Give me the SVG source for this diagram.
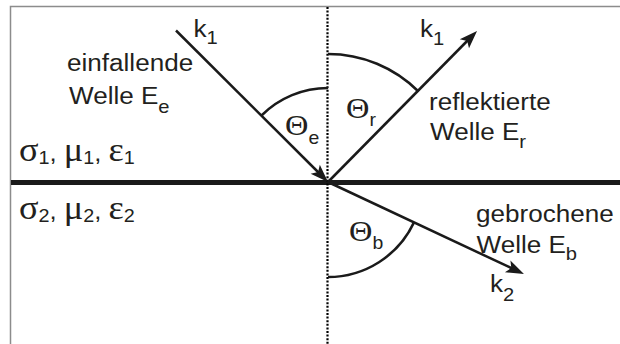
<svg xmlns="http://www.w3.org/2000/svg" width="620" height="344" viewBox="0 0 620 344">
<style>
.t{font-family:"Liberation Sans",Arial,sans-serif;font-size:23.3px;fill:#231f20}
.s{font-size:18px}
.g{font-family:"Liberation Serif","Times New Roman",serif;font-size:33px}
.th{font-family:"Liberation Serif","Times New Roman",serif;font-size:30px}
.ray{stroke:#1a1a1a;stroke-width:2.5;fill:none}
.arc{stroke:#1a1a1a;stroke-width:2.5;fill:none}
</style>
<defs>
<marker id="ah" viewBox="-8 -8 22 16" refX="0" refY="0" markerWidth="22" markerHeight="16" markerUnits="userSpaceOnUse" orient="auto">
<path d="M12,0 L-6,-6.5 L-2,0 L-6,6.5 Z" fill="#1a1a1a"/>
</marker>
</defs>
<rect width="620" height="344" fill="#fff"/>
<g id="frame" stroke="#8c8c8c" stroke-width="1.5" fill="none">
<path d="M10.5,344 V6.5 H620"/>
</g>
<g id="interface">
<line x1="11" y1="182.5" x2="620" y2="182.5" stroke="#1a1a1a" stroke-width="5"/>
</g>
<g id="normal">
<line x1="327.5" y1="7" x2="327.5" y2="344" stroke="#000" stroke-width="2.2" stroke-dasharray="2 1.6"/>
</g>
<g id="arcs">
<path class="arc" d="M261.5,115.5 A94,94 0 0 1 328,88"/>
<path class="arc" d="M328,54 A128,128 0 0 1 418.5,91.5"/>
<path class="arc" d="M414,222.4 A95,95 0 0 1 328,277"/>
</g>
<g id="connectors">
<line class="ray" x1="176" y1="30.5" x2="319.5" y2="173.5" marker-end="url(#ah)"/>
<line class="ray" x1="328" y1="182" x2="468.6" y2="39.5" marker-end="url(#ah)"/>
<line class="ray" x1="328" y1="182" x2="513.1" y2="268.9" marker-end="url(#ah)"/>
</g>
<g id="incident">
<text class="t" transform="translate(193.5,37) scale(1.12,1)">k<tspan class="s" dy="7">1</tspan></text>
<text class="t" transform="translate(67,71) scale(1.12,1)">einfallende</text>
<text class="t" transform="translate(69,103.5) scale(1.12,1)">Welle E<tspan class="s" dy="9">e</tspan></text>
</g>
<g id="reflected">
<text class="t" transform="translate(420,36.5) scale(1.12,1)">k<tspan class="s" dy="8">1</tspan></text>
<text class="t" transform="translate(429,110) scale(1.12,1)">reflektierte</text>
<text class="t" transform="translate(430,140) scale(1.12,1)">Welle E<tspan class="s" dy="8">r</tspan></text>
</g>
<g id="refracted">
<text class="t" transform="translate(476,221.7) scale(1.12,1)">gebrochene</text>
<text class="t" transform="translate(476.5,253.3) scale(1.12,1)">Welle E<tspan class="s" dy="7">b</tspan></text>
<text class="t" transform="translate(490,291.7) scale(1.12,1)">k<tspan class="s" dy="9">2</tspan></text>
</g>
<g id="medium1">
<text class="t" transform="translate(19,161) scale(1.1,1)"><tspan class="g">σ</tspan><tspan class="s" dy="3">1</tspan><tspan dy="-3">, </tspan><tspan class="g">μ</tspan><tspan class="s" dy="3">1</tspan><tspan dy="-3">, </tspan><tspan class="g">ε</tspan><tspan class="s" dy="3">1</tspan></text>
</g>
<g id="medium2">
<text class="t" transform="translate(19,219) scale(1.1,1)"><tspan class="g">σ</tspan><tspan class="s" dy="3">2</tspan><tspan dy="-3">, </tspan><tspan class="g">μ</tspan><tspan class="s" dy="3">2</tspan><tspan dy="-3">, </tspan><tspan class="g">ε</tspan><tspan class="s" dy="3">2</tspan></text>
</g>
<g id="angles">
<text class="t" transform="translate(285,135) scale(1.08,1)"><tspan class="th">Θ</tspan><tspan class="s" dy="9">e</tspan></text>
<text class="t" transform="translate(346,118) scale(1.08,1)"><tspan class="th">Θ</tspan><tspan class="s" dy="8">r</tspan></text>
<text class="t" transform="translate(349,241) scale(1.08,1)"><tspan class="th">Θ</tspan><tspan class="s" dy="8">b</tspan></text>
</g>
</svg>
